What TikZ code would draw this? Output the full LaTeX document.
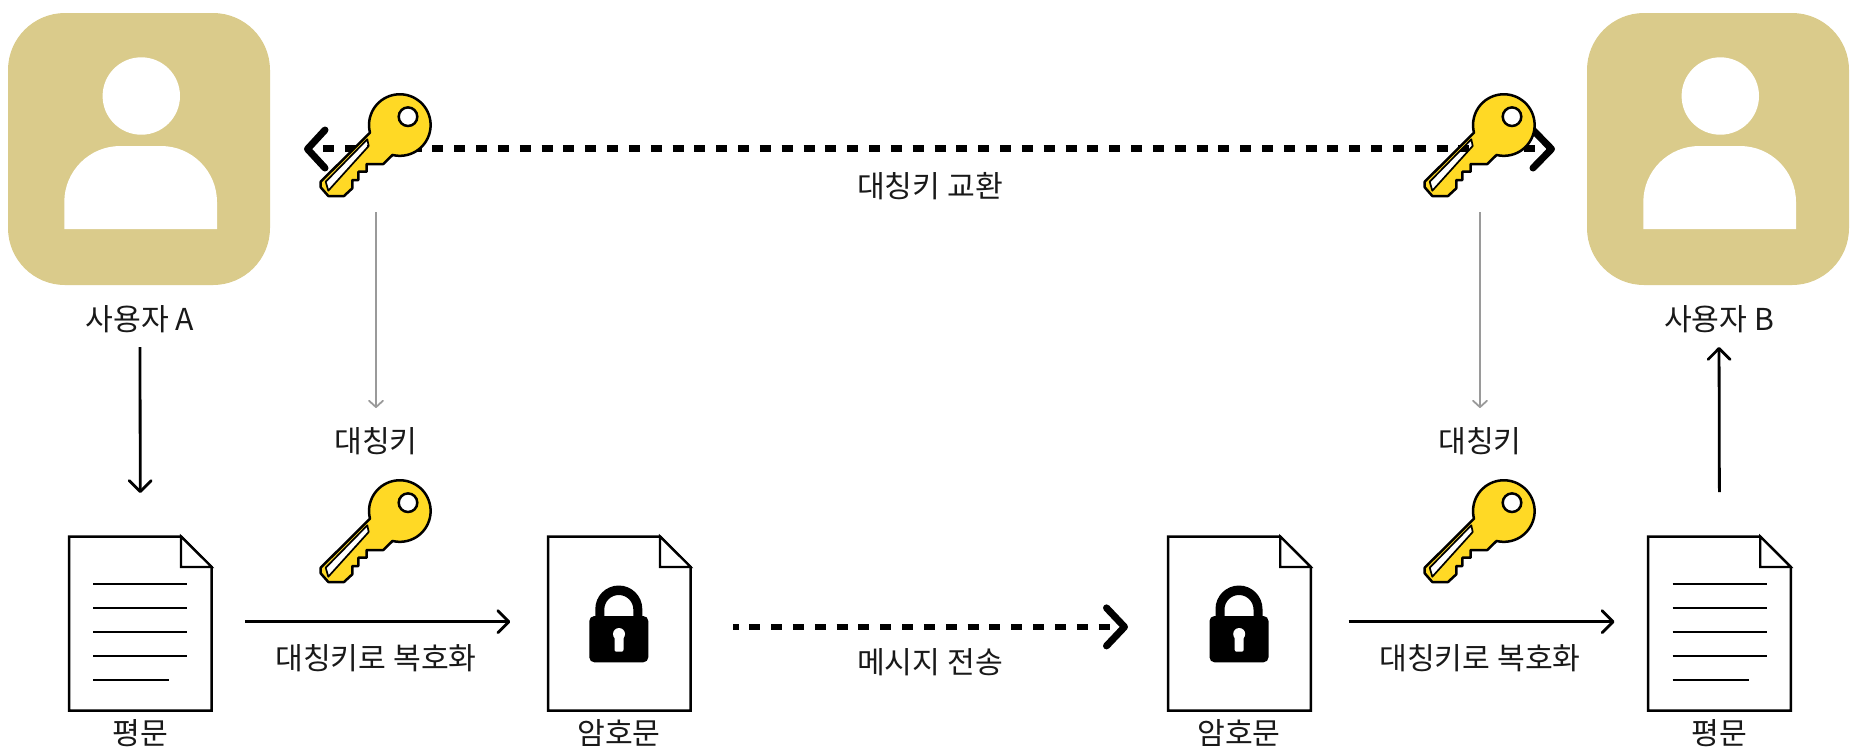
\documentclass[tikz,border=0pt]{standalone}
\usepackage{fontspec}
\setmainfont{Noto Sans CJK KR}
\usetikzlibrary{arrows.meta}
\definecolor{userfill}{HTML}{DACB8B}
\definecolor{keyfill}{HTML}{FFD925}
\definecolor{grayline}{HTML}{9A9A9A}
\tikzset{
  x=0.5pt,y=0.5pt,
  lbl/.style={inner sep=0pt,outer sep=0pt,font=\fontsize{15.1pt}{17pt}\selectfont,text height=12.5pt,text depth=1.5pt,text=black!90},
  userbox/.style={rectangle,fill=userfill,rounded corners=28.5pt,minimum width=131pt,minimum height=136pt,inner sep=0pt,outer sep=0pt},
  docbox/.style={rectangle,minimum width=72pt,minimum height=87.5pt,inner sep=0pt,outer sep=0pt},
  keybox/.style={rectangle,minimum width=56pt,minimum height=52pt,inner sep=0pt,outer sep=0pt},
  thinarrow/.style={line width=1.4pt,-{Straight Barb[length=5.5pt,width=11pt,round]}},
  grayarrow/.style={line width=0.9pt,draw=grayline,-{Straight Barb[length=3.2pt,width=7pt,round]}},
  dasharrow/.style={line width=3.4pt,dash pattern=on 5.5pt off 5.415pt},
  chevron/.style={line width=3.5pt,line cap=round,line join=round},
  docline/.style={line width=1.25pt,line join=miter},
  personicon/.pic={
    \fill[white] (2.3,53) circle (38.7);
    \fill[white] (-74.7,-80) -- (-74.7,-53) arc (180:90:56) -- (22,3) arc (90:0:56) -- (78,-80) -- cycle;
  },
  keyicon/.pic={
    \path[fill=keyfill,even odd rule]
      (-30,-7.7) arc (194.4:-103.7:30.8) -- (-16.7,-39) -- (-33.3,-39) -- (-33.3,-46.7) -- (-41.7,-46.7) -- (-41.7,-55) -- (-47.7,-55) -- (-47.7,-63.3) -- (-56,-71) -- (-71.7,-71) -- (-79.3,-62.3) -- (-79.3,-56.7) -- cycle
      (8,8.3) circle (9.3)
      (-32.7,-14.3) -- (-31.3,-21) -- (-71.7,-65.7) -- (-74.3,-56.7) -- cycle;
    \draw[line width=1.25pt,line join=round]
      (-30,-7.7) arc (194.4:-103.7:30.8) -- (-16.7,-39) -- (-33.3,-39) -- (-33.3,-46.7) -- (-41.7,-46.7) -- (-41.7,-55) -- (-47.7,-55) -- (-47.7,-63.3) -- (-56,-71) -- (-71.7,-71) -- (-79.3,-62.3) -- (-79.3,-56.7) -- cycle;
    \draw[line width=1.25pt] (8,8.3) circle (9.3);
    \draw[line width=0.85pt,line join=round] (-32.7,-14.3) -- (-31.3,-21) -- (-71.7,-65.7) -- (-74.3,-56.7) -- cycle;
  },
  docfile/.pic={
    \draw[docline,fill=white] (-71.3,87) -- (40.7,87) -- (71.3,56.5) -- (71.3,-87) -- (-71.3,-87) -- cycle;
    \draw[line width=1.1pt,fill=white,line join=miter] (40.7,87) -- (71.3,56.5) -- (40.7,56.5) -- cycle;
  },
  textlines/.pic={
    \foreach \yy in {39.5,15.5,-8.5,-32.5}{\draw[line width=0.85pt] (-47,\yy) -- (47,\yy);}
    \draw[line width=0.85pt] (-47,-56.5) -- (29,-56.5);
  },
  lockicon/.pic={
    \fill[black,even odd rule] (-24,7.5) -- (-24,14.5) arc (180:0:23.5) -- (23,7.5) -- cycle
      (-15,7.5) -- (-15,14) arc (180:0:14.5) -- (14,7.5) -- cycle;
    \fill[black,rounded corners=2.5pt] (-30,-38.8) rectangle (29,7.5);
    \fill[white] (-0.3,-10.5) circle (6);
    \fill[white,rounded corners=1pt] (-4.8,-10.5) -- (4.2,-10.5) -- (4.2,-28.2) -- (-4.8,-28.2) -- cycle;
  }
}
\begin{document}
\begin{tikzpicture}
\useasboundingbox (0,0) rectangle (1859,-752);
% users
\node[userbox] (userA) at (139,-149) {};
\node[userbox] (userB) at (1718,-149) {};
\pic at (userA.center) {personicon};
\pic at (userB.center) {personicon};
\node[lbl] (lblA) at (140,-319) {사용자 A};
\node[lbl] (lblB) at (1719,-319) {사용자 B};
% documents
\node[docbox] (doc1) at (140.3,-623.5) {};
\node[docbox] (doc2) at (619.3,-623.5) {};
\node[docbox] (doc3) at (1239.5,-623.5) {};
\node[docbox] (doc4) at (1719.5,-623.5) {};
\pic at (doc1.center) {docfile};
\pic at (doc2.center) {docfile};
\pic at (doc3.center) {docfile};
\pic at (doc4.center) {docfile};
\pic at (doc1.center) {textlines};
\pic at (doc4.center) {textlines};
\pic at (doc2.center) {lockicon};
\pic at (doc3.center) {lockicon};
\node[lbl] (lblD1) at (140,-733) {평문};
\node[lbl] (lblD2) at (619,-733) {암호문};
\node[lbl] (lblD3) at (1239,-733) {암호문};
\node[lbl] (lblD4) at (1719,-733) {평문};
% exchange arrow (behind the keys)
\draw[dasharrow,shorten <=26.65pt,shorten >=17.5pt] ([yshift=0.4pt]userA.east) -- ([yshift=0.4pt]userB.west);
\draw[chevron] ([xshift=27.5pt,yshift=9.5pt]userA.east) -- ([xshift=18.75pt]userA.east) -- ([xshift=27.5pt,yshift=-9.5pt]userA.east);
\draw[chevron] ([xshift=-27pt,yshift=9.5pt]userB.west) -- ([xshift=-17.75pt]userB.west) -- ([xshift=-27pt,yshift=-9.5pt]userB.west);
% keys
\node[keybox] (keyU1) at (376,-144) {};
\node[keybox] (keyU2) at (1480,-144) {};
\node[keybox] (keyL1) at (376,-530) {};
\node[keybox] (keyL2) at (1480,-530) {};
\pic at ([xshift=12pt,yshift=9.5pt]keyU1.center) {keyicon};
\pic at ([xshift=12pt,yshift=9.5pt]keyU2.center) {keyicon};
\pic at ([xshift=12pt,yshift=9.5pt]keyL1.center) {keyicon};
\pic at ([xshift=12pt,yshift=9.5pt]keyL2.center) {keyicon};
% labels
\node[lbl] (lblK1) at (376,-441) {대칭키};
\node[lbl] (lblK2) at (1480,-441) {대칭키};
\node[lbl] (lblEx) at (930,-186) {대칭키 교환};
\node[lbl] (lblDec1) at (376,-658) {대칭키로 복호화};
\node[lbl] (lblDec2) at (1480,-658) {대칭키로 복호화};
\node[lbl] (lblMsg) at (930,-662) {메시지 전송};
% connectors
\draw[thinarrow,shorten <=7pt,shorten >=21.5pt] (lblA.south) -- (doc1.north);
\draw[thinarrow,shorten <=22pt,shorten >=7pt] (doc4.north) -- (lblB.south);
\draw[thinarrow,shorten <=16.5pt,shorten >=18.5pt] ([yshift=0.9pt]doc1.east) -- ([yshift=0.9pt]doc2.west);
\draw[thinarrow,shorten <=18.5pt,shorten >=16.5pt] ([yshift=0.9pt]doc3.east) -- ([yshift=0.9pt]doc4.west);
\draw[dasharrow,dash phase=2.9pt,shorten <=21pt,shorten >=21pt] ([yshift=-1.7pt]doc2.east) -- ([yshift=-1.7pt]doc3.west);
\draw[chevron] ([xshift=-30.5pt,yshift=7.8pt]doc3.west) -- ([xshift=-21.5pt,yshift=-1.7pt]doc3.west) -- ([xshift=-30.5pt,yshift=-11.2pt]doc3.west);
\draw[grayarrow,shorten <=8pt,shorten >=9.5pt] (keyU1.south) -- (lblK1.north);
\draw[grayarrow,shorten <=8pt,shorten >=9.5pt] (keyU2.south) -- (lblK2.north);
\end{tikzpicture}
\end{document}
